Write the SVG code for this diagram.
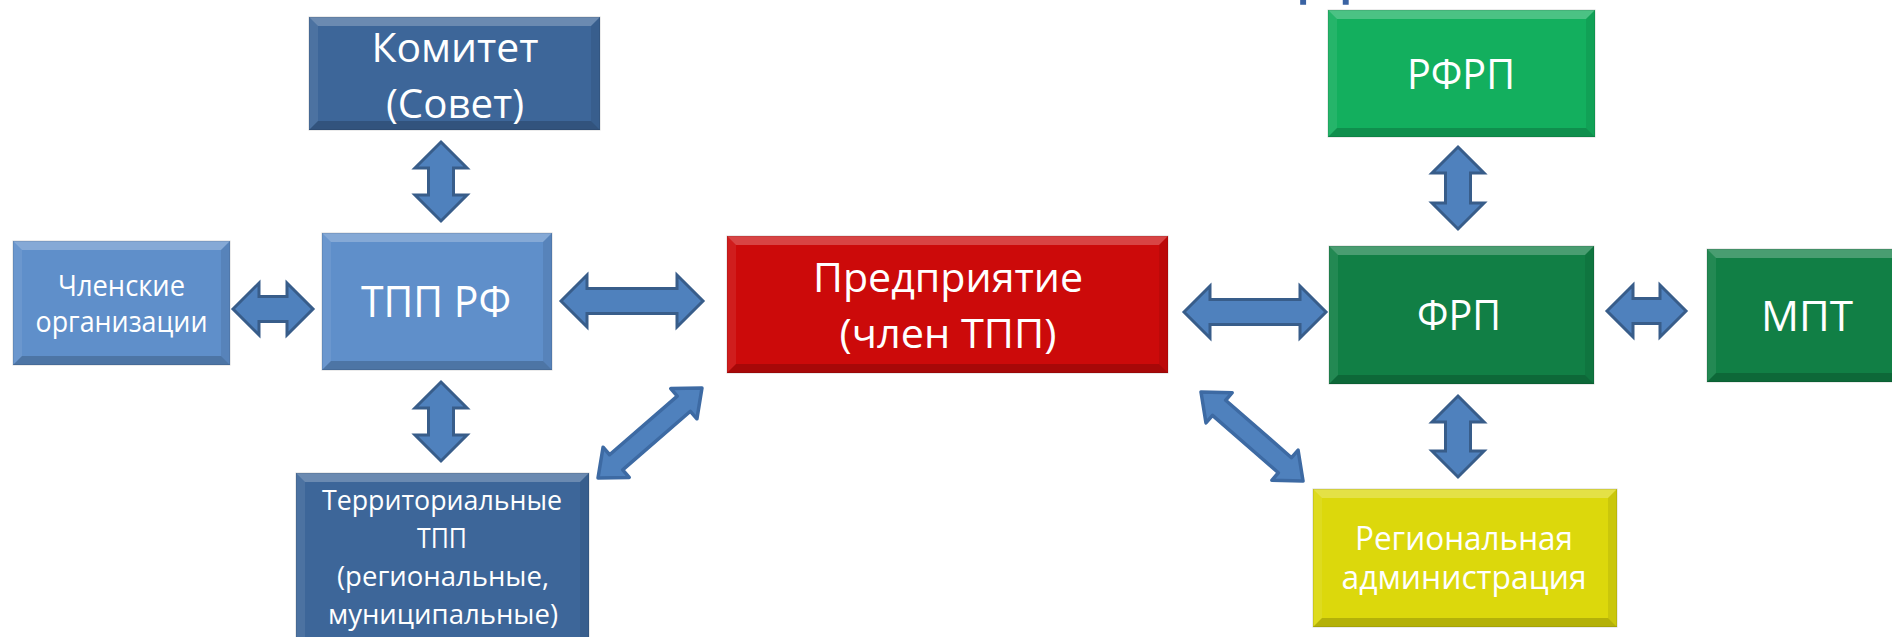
<svg xmlns="http://www.w3.org/2000/svg" width="1892" height="637" viewBox="0 0 1892 637">
<style>
  .t{font-family:"Open Sans",Lato,"Liberation Sans",sans-serif;fill:#ffffff;text-anchor:middle}
  .hi{fill:#ffffff;fill-opacity:0.24}
  .lh{fill:#ffffff;fill-opacity:0.08}
  .rd{fill:#000000;fill-opacity:0.08}
  .bd{fill:#000000;fill-opacity:0.18}
  .edge{fill:none;stroke:#000000;stroke-opacity:0.16;stroke-width:1}
  .arr{fill:#4F81BD;stroke:#385D8A;stroke-width:3;stroke-linejoin:miter}
  .dia{fill:#4F81BD;stroke:#3D6AA3;stroke-width:3.5;stroke-linejoin:round}
</style>
<rect width="1892" height="637" fill="#ffffff"/>
<text x="1325" y="-9" font-family="'Open Sans',Lato,sans-serif" font-size="74" fill="#3A63A3" text-anchor="middle">Д</text>

<g id="node-komitet">
  <rect x="309" y="17" width="291" height="113" fill="#3D6699"/>
  <polygon class="hi" points="309,17 600,17 591,26 318,26"/>
  <polygon class="lh" points="309,17 318,26 318,121 309,130"/>
  <polygon class="rd" points="600,17 600,130 591,121 591,26"/>
  <polygon class="bd" points="309,130 600,130 591,121 318,121"/>
  <rect class="edge" x="309" y="17" width="291" height="113"/>
  <text class="t" x="455" y="62" font-size="40" textLength="167" lengthAdjust="spacingAndGlyphs">Комитет</text>
  <text class="t" x="455" y="118" font-size="40" textLength="138" lengthAdjust="spacingAndGlyphs">(Совет)</text>
</g>

<g id="node-chlenskie">
  <rect x="13" y="241" width="217" height="124" fill="#5F8FCA"/>
  <polygon class="hi" points="13,241 230,241 221,250 22,250"/>
  <polygon class="lh" points="13,241 22,250 22,356 13,365"/>
  <polygon class="rd" points="230,241 230,365 221,356 221,250"/>
  <polygon class="bd" points="13,365 230,365 221,356 22,356"/>
  <rect class="edge" x="13" y="241" width="217" height="124"/>
  <text class="t" x="121.5" y="296" font-size="29" textLength="127" lengthAdjust="spacingAndGlyphs">Членские</text>
  <text class="t" x="121.5" y="332" font-size="29" textLength="172" lengthAdjust="spacingAndGlyphs">организации</text>
</g>

<g id="node-tpp-rf">
  <rect x="322" y="233" width="230" height="137" fill="#5F8FCA"/>
  <polygon class="hi" points="322,233 552,233 543,242 331,242"/>
  <polygon class="lh" points="322,233 331,242 331,361 322,370"/>
  <polygon class="rd" points="552,233 552,370 543,361 543,242"/>
  <polygon class="bd" points="322,370 552,370 543,361 331,361"/>
  <rect class="edge" x="322" y="233" width="230" height="137"/>
  <text class="t" x="436" y="317" font-size="43" textLength="150" lengthAdjust="spacingAndGlyphs">ТПП РФ</text>
</g>

<g id="node-territorial">
  <rect x="296" y="473" width="293" height="170" fill="#3D6699"/>
  <polygon class="hi" points="296,473 589,473 580,482 305,482"/>
  <polygon class="lh" points="296,473 305,482 305,643 296,643"/>
  <polygon class="rd" points="589,473 589,643 580,643 580,482"/>
  <rect class="edge" x="296" y="473" width="293" height="170"/>
  <text class="t" x="442" y="510" font-size="26.5" textLength="240" lengthAdjust="spacingAndGlyphs">Территориальные</text>
  <text class="t" x="442" y="548" font-size="26.5" textLength="50" lengthAdjust="spacingAndGlyphs">ТПП</text>
  <text class="t" x="443" y="586" font-size="26.5" textLength="212" lengthAdjust="spacingAndGlyphs">(региональные,</text>
  <text class="t" x="443" y="624" font-size="26.5" textLength="230" lengthAdjust="spacingAndGlyphs">муниципальные)</text>
</g>

<g id="node-predpriyatie">
  <rect x="727" y="236" width="441" height="137" fill="#CC0A0A"/>
  <polygon class="hi" points="727,236 1168,236 1159,245 736,245"/>
  <polygon class="lh" points="727,236 736,245 736,364 727,373"/>
  <polygon class="rd" points="1168,236 1168,373 1159,364 1159,245"/>
  <polygon class="bd" points="727,373 1168,373 1159,364 736,364"/>
  <rect class="edge" x="727" y="236" width="441" height="137"/>
  <text class="t" x="948" y="292" font-size="40" textLength="270" lengthAdjust="spacingAndGlyphs">Предприятие</text>
  <text class="t" x="948" y="348" font-size="40" textLength="217" lengthAdjust="spacingAndGlyphs">(член ТПП)</text>
</g>

<g id="node-rfrp">
  <rect x="1328" y="10" width="267" height="127" fill="#13AF5E"/>
  <polygon class="hi" points="1328,10 1595,10 1586,19 1337,19"/>
  <polygon class="lh" points="1328,10 1337,19 1337,128 1328,137"/>
  <polygon class="rd" points="1595,10 1595,137 1586,128 1586,19"/>
  <polygon class="bd" points="1328,137 1595,137 1586,128 1337,128"/>
  <rect class="edge" x="1328" y="10" width="267" height="127"/>
  <text class="t" x="1461" y="89" font-size="42" textLength="108" lengthAdjust="spacingAndGlyphs">РФРП</text>
</g>

<g id="node-frp">
  <rect x="1329" y="246" width="265" height="138" fill="#117F45"/>
  <polygon class="hi" points="1329,246 1594,246 1585,255 1338,255"/>
  <polygon class="lh" points="1329,246 1338,255 1338,375 1329,384"/>
  <polygon class="rd" points="1594,246 1594,384 1585,375 1585,255"/>
  <polygon class="bd" points="1329,384 1594,384 1585,375 1338,375"/>
  <rect class="edge" x="1329" y="246" width="265" height="138"/>
  <text class="t" x="1459" y="330" font-size="42" textLength="84" lengthAdjust="spacingAndGlyphs">ФРП</text>
</g>

<g id="node-mpt">
  <rect x="1707" y="249" width="200" height="133" fill="#117F45"/>
  <polygon class="hi" points="1707,249 1907,249 1898,258 1716,258"/>
  <polygon class="lh" points="1707,249 1716,258 1716,373 1707,382"/>
  <polygon class="bd" points="1707,382 1907,382 1898,373 1716,373"/>
  <rect class="edge" x="1707" y="249" width="200" height="133"/>
  <text class="t" x="1807" y="331" font-size="42" textLength="92" lengthAdjust="spacingAndGlyphs">МПТ</text>
</g>

<g id="node-region">
  <rect x="1313" y="489" width="304" height="138" fill="#DCD80C"/>
  <polygon class="hi" points="1313,489 1617,489 1608,498 1322,498"/>
  <polygon class="lh" points="1313,489 1322,498 1322,618 1313,627"/>
  <polygon class="rd" points="1617,489 1617,627 1608,618 1608,498"/>
  <polygon class="bd" points="1313,627 1617,627 1608,618 1322,618"/>
  <rect class="edge" x="1313" y="489" width="304" height="138"/>
  <text class="t" x="1464" y="550" font-size="32" textLength="218" lengthAdjust="spacingAndGlyphs">Региональная</text>
  <text class="t" x="1464" y="589" font-size="32" textLength="245" lengthAdjust="spacingAndGlyphs">администрация</text>
</g>

<g id="connectors">
  <path class="arr" d="M233 309 L259 283 L259 296.5 L287 296.5 L287 283 L313 309 L287 335 L287 321.5 L259 321.5 L259 335 Z"/>
  <path class="arr" d="M561 301 L587 275 L587 288.5 L677 288.5 L677 275 L703 301 L677 327 L677 313.5 L587 313.5 L587 327 Z"/>
  <path class="arr" d="M1184 312 L1210 286 L1210 299.5 L1300 299.5 L1300 286 L1326 312 L1300 338 L1300 324.5 L1210 324.5 L1210 338 Z"/>
  <path class="arr" d="M1607 311 L1633 285 L1633 298.5 L1660 298.5 L1660 285 L1686 311 L1660 337 L1660 323.5 L1633 323.5 L1633 337 Z"/>
  <path class="arr" d="M441 142 L467 168 L453.5 168 L453.5 195 L467 195 L441 221 L415 195 L428.5 195 L428.5 168 L415 168 Z"/>
  <path class="arr" d="M441 382 L467 408 L453.5 408 L453.5 435 L467 435 L441 461 L415 435 L428.5 435 L428.5 408 L415 408 Z"/>
  <path class="arr" d="M1458 147 L1484 173 L1470.5 173 L1470.5 203 L1484 203 L1458 229 L1432 203 L1445.5 203 L1445.5 173 L1432 173 Z"/>
  <path class="arr" d="M1458 396 L1484 422 L1470.5 422 L1470.5 451 L1484 451 L1458 477 L1432 451 L1445.5 451 L1445.5 422 L1432 422 Z"/>
  <path class="dia" transform="translate(598,478) rotate(-40.87)" d="M0 0 L24 -20 L24 -10 L113.5 -10 L113.5 -20 L137.5 0 L113.5 20 L113.5 10 L24 10 L24 20 Z"/>
  <path class="dia" transform="translate(1201,392) rotate(41.1)" d="M0 0 L24 -20 L24 -10 L111.4 -10 L111.4 -20 L135.4 0 L111.4 20 L111.4 10 L24 10 L24 20 Z"/>
</g>
</svg>
